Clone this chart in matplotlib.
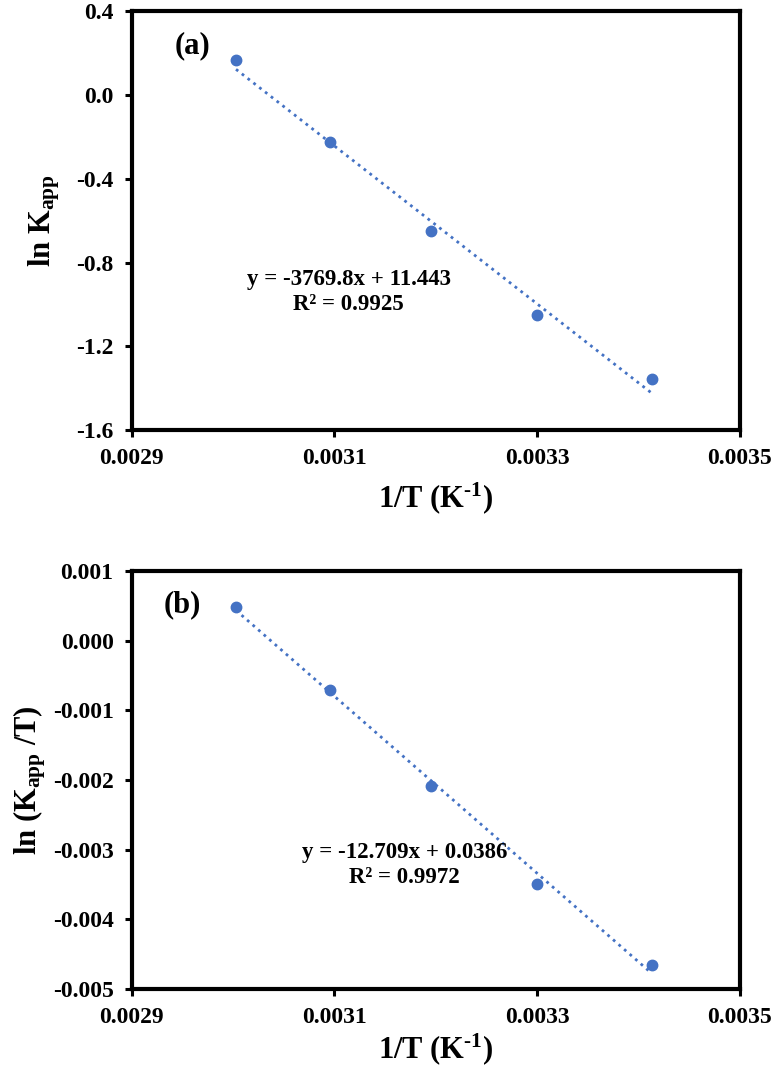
import matplotlib
matplotlib.use("Agg")
import matplotlib.pyplot as plt
import numpy as np

# 1/T values (K^-1) shared by both panels
inv_T = [0.003003, 0.003096, 0.003195, 0.003300, 0.003413]

# panel (a): ln k_app
ln_k = [0.165, -0.227, -0.648, -1.052, -1.357]
slope_a, intercept_a = -3769.8, 11.443
r2_a = 0.9925

# panel (b): ln (k_app / T)
ln_k_T = [0.000484, -0.000711, -0.002089, -0.003491, -0.004656]
slope_b, intercept_b = -12.709, 0.0386
r2_b = 0.9972

x_ticks = [0.0029, 0.0031, 0.0033, 0.0035]
x_tick_labels = ["0.0029", "0.0031", "0.0033", "0.0035"]
y_ticks_a = [0.4, 0.0, -0.4, -0.8, -1.2, -1.6]
y_ticks_b = [0.001, 0.0, -0.001, -0.002, -0.003, -0.004, -0.005]

BLUE = "#4472C4"

plt.rcParams["font.family"] = "Liberation Serif"
plt.rcParams["font.weight"] = "bold"
plt.rcParams["axes.unicode_minus"] = False
plt.rcParams["mathtext.fontset"] = "custom"
plt.rcParams["mathtext.rm"] = "Liberation Serif:bold"
plt.rcParams["mathtext.it"] = "Liberation Serif:bold"
plt.rcParams["mathtext.bf"] = "Liberation Serif:bold"


def draw_panel(ax, x, y, slope, intercept, r2, yticks, yfmt, ylabel, tag, tag_xy,
               eq_text, eq_xy, xpad, ypad):
    xs = np.array([x[0], x[-1]])
    ax.plot(xs, slope * xs + intercept, linestyle=":", color=BLUE, linewidth=2.0, zorder=2)
    ax.plot(x, y, "o", color=BLUE, markersize=7.5, zorder=3)

    ax.set_xlim(x_ticks[0], x_ticks[-1])
    ax.set_ylim(yticks[-1], yticks[0])
    ax.set_xticks(x_ticks)
    ax.set_xticklabels(x_tick_labels)
    ax.set_yticks(yticks)
    ax.set_yticklabels([yfmt.format(v) for v in yticks])

    for side in ["left", "right", "top", "bottom"]:
        ax.spines[side].set_linewidth(3)
    ax.tick_params(direction="out", length=5, width=2.2, labelsize=17, pad=8)

    ax.set_xlabel(r"1/T (K$^{\text{-}1}$)", fontsize=22, fontweight="bold", labelpad=xpad)
    ax.set_ylabel(ylabel, fontsize=22, fontweight="bold", labelpad=ypad)

    ax.text(tag_xy[0], tag_xy[1], tag, fontsize=22, fontweight="bold", ha="center", va="center")
    ax.text(eq_xy[0], eq_xy[1], eq_text + "\nR² = {:.4f}".format(r2),
            fontsize=16.5, fontweight="bold", ha="center", va="center", linespacing=1.25)


fig = plt.figure(figsize=(7.74, 10.70), dpi=100)
ax_a = fig.add_axes([0.170, 0.598, 0.786, 0.3916])
ax_b = fig.add_axes([0.170, 0.0757, 0.786, 0.3907])

draw_panel(ax_a, inv_T, ln_k, slope_a, intercept_a, r2_a, y_ticks_a, "{:.1f}",
           r"ln K$_{app}$", "(a)", (0.00296, 0.233),
           "y = {:.1f}x + {:.3f}".format(slope_a, intercept_a), (0.003114, -0.94), 8, 10)
draw_panel(ax_b, inv_T, ln_k_T, slope_b, intercept_b, r2_b, y_ticks_b, "{:.3f}",
           r"ln (K$_{app}$ /T)", "(b)", (0.00295, 0.00052),
           "y = {:.3f}x + {:.4f}".format(slope_b, intercept_b), (0.003169, -0.00322), 2, 3)

fig.savefig("out.png", dpi=100)
